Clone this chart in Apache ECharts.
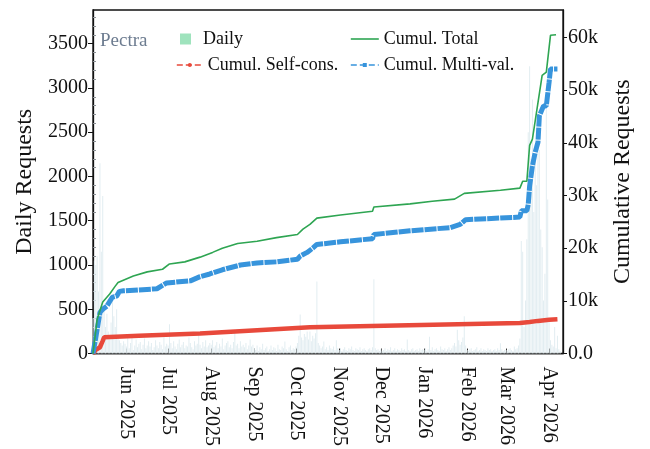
<!DOCTYPE html>
<html>
<head>
<meta charset="utf-8">
<script src="https://cdn.jsdelivr.net/npm/echarts@6/dist/echarts.min.js"></script>
<style>
  html, body { margin: 0; padding: 0; background: #fff; }
  #chart { width: 650px; height: 449px; }
</style>
</head>
<body>
<div id="chart"></div>
<script>
// first day of the daily series
const startDate = '2025-05-08'
const endDate = '2026-04-11'

// daily requests, one array per month (May starts on the 8th)
const dailyMay = [400, 1050, 1000, 1100, 700, 2150, 1150, 1780, 500, 300, 450, 250, 200, 350, 600, 420, 300, 500, 200, 150, 120, 90, 140, 110]
const dailyJun = [80, 190, 60, 120, 190, 40, 90, 160, 70, 110, 130, 50, 100, 170, 60, 90, 140, 80, 120, 40, 70, 150, 90, 60, 130, 100, 50, 180, 80, 110]
const dailyJul = [90, 330, 120, 60, 140, 80, 50, 110, 160, 70, 100, 130, 60, 90, 80, 180, 120, 70, 50, 140, 90, 110, 240, 100, 60, 130, 80, 150, 70, 90, 120]
const dailyAug = [100, 150, 70, 90, 130, 60, 110, 80, 170, 50, 90, 120, 140, 70, 100, 60, 130, 250, 90, 110, 60, 140, 80, 100, 70, 120, 50, 90, 160, 80, 100]
const dailySep = [60, 40, 90, 30, 70, 50, 110, 40, 60, 80, 30, 50, 90, 40, 70, 60, 30, 100, 50, 40, 80, 60, 135, 50, 30, 70, 90, 40, 60, 50]
const dailyOct = [80, 120, 200, 440, 180, 150, 220, 190, 250, 160, 250, 140, 200, 170, 230, 815, 120, 90, 60, 80, 135, 50, 70, 40, 90, 60, 50, 80, 40, 150, 60]
const dailyNov = [40, 60, 30, 50, 70, 40, 30, 60, 50, 80, 40, 30, 60, 50, 40, 70, 30, 50, 60, 40, 30, 50, 60, 40, 70, 840, 60, 40, 50, 30]
const dailyDec = [50, 30, 40, 60, 30, 50, 40, 70, 30, 40, 60, 30, 50, 40, 30, 60, 40, 50, 30, 160, 40, 30, 50, 60, 30, 40, 50, 30, 60, 40, 50]
const dailyJan = [40, 60, 30, 50, 190, 40, 70, 30, 50, 60, 40, 30, 80, 50, 40, 60, 30, 50, 70, 40, 60, 90, 120, 80, 270, 150, 100, 130, 180, 420, 90]
const dailyFeb = [40, 30, 50, 60, 30, 40, 50, 70, 30, 40, 60, 30, 50, 40, 30, 60, 40, 50, 30, 40, 50, 30, 60, 40, 115, 50, 30, 40]
const dailyMar = [40, 30, 50, 60, 40, 30, 80, 50, 60, 90, 170, 1270, 1150, 300, 600, 1290, 2500, 3245, 2200, 2870, 1600, 2200, 1900, 2500, 2300, 1400, 1200, 600, 900, 2760, 1740]
const dailyApr = [400, 150, 100, 80, 300, 60, 200, 50, 30]

// cumulative series: day offset from startDate, value
const totalDay = [0, 3, 7, 12, 16, 18, 29, 39, 50, 55, 66, 77, 86, 93, 104, 118, 132, 147, 151, 156, 161, 178, 201, 202, 228, 244, 260, 267, 293, 307, 309, 312, 314, 316, 323, 326, 329, 333]
const totalVal = [0, 6500, 9800, 11300, 12800, 13500, 14700, 15500, 16000, 17000, 17400, 18300, 19200, 20000, 20900, 21300, 22000, 22600, 23600, 24500, 25700, 26300, 27000, 27800, 28400, 28900, 29300, 30400, 31000, 31400, 32700, 32700, 39500, 40700, 52800, 53400, 60400, 60500]

const selfDay = [0, 2, 5, 6, 7, 8, 33, 77, 156, 307, 314, 320, 328, 334]
const selfVal = [0, 700, 1200, 1500, 2400, 3100, 3400, 3800, 5000, 5800, 6000, 6200, 6400, 6500]

const multiDay = [0, 3, 5, 7, 10, 12, 14, 17, 19, 22, 46, 53, 70, 77, 84, 93, 106, 118, 132, 147, 149, 154, 158, 161, 178, 201, 202, 228, 257, 264, 268, 307, 308, 312, 313, 314, 316, 318, 320, 321, 324, 326, 328, 329, 334]
const multiVal = [0, 4600, 7800, 8400, 9000, 9900, 10700, 10900, 11800, 11900, 12300, 13400, 13800, 14600, 15100, 15900, 16800, 17200, 17400, 17900, 18500, 19200, 20000, 20700, 21200, 21800, 22600, 23300, 23900, 24500, 25400, 25900, 27100, 27100, 28300, 31800, 35600, 38200, 40100, 45100, 47000, 47000, 51500, 54000, 54000]

// x tick labels
const tickDates = ['2025-06-01', '2025-07-01', '2025-08-01', '2025-09-01', '2025-10-01', '2025-11-01', '2025-12-01', '2026-01-01', '2026-02-01', '2026-03-01', '2026-04-01']
const tickLabels = ['Jun 2025', 'Jul 2025', 'Aug 2025', 'Sep 2025', 'Oct 2025', 'Nov 2025', 'Dec 2025', 'Jan 2026', 'Feb 2026', 'Mar 2026', 'Apr 2026']

const DAY = 86400000
const t0 = Date.parse(startDate)
const daily = [].concat(dailyMay, dailyJun, dailyJul, dailyAug, dailySep, dailyOct, dailyNov, dailyDec, dailyJan, dailyFeb, dailyMar, dailyApr)
const tickValues = tickDates.map((d) => Date.parse(d))

const toPoints = (days, vals) => days.map((d, i) => [t0 + d * DAY, vals[i]])

const FONT = '"Liberation Serif", "DejaVu Serif", serif'
const leftMax = 3880
const rightMax = 65200

const legendText = { fontSize: 18, fontFamily: FONT, color: '#111', lineHeight: 20 }

// one legend per entry so each can be placed like the 2x2 box
function legendAt(left, top, item, w, h) {
  return { left, top, itemWidth: w, itemHeight: h, itemGap: 0, textStyle: legendText, data: [item] }
}

const chart = echarts.init(document.getElementById('chart'), null, { renderer: 'canvas' })

chart.setOption({
  animation: false,
  backgroundColor: '#fff',
  textStyle: { fontFamily: FONT, color: '#111' },
  grid: {
    left: 93, right: 87, top: 10, bottom: 95,
    show: true, borderColor: '#111', borderWidth: 1.3, backgroundColor: 'transparent',
  },
  graphic: [
    {
      type: 'text', left: 100, top: 32,
      style: { text: 'Pectra', fill: '#6d7c90', font: '19px ' + FONT },
    },
  ],
  legend: [
    legendAt(175, 24, { name: 'Daily', icon: 'path://M0,0H10V10H0Z', itemStyle: { color: '#9fe3bd' } }, 25, 11),
    legendAt(171, 50, { name: 'Cumul. Self-cons.', lineStyle: { width: 1.6, type: [6, 3] } }, 26, 5),
    legendAt(345, 24, { name: 'Cumul. Total', lineStyle: { width: 1.6 }, itemStyle: { opacity: 0 } }, 28, 5),
    legendAt(345, 50, { name: 'Cumul. Multi-val.', lineStyle: { width: 1.6, type: [6, 3] } }, 28, 5),
  ],
  xAxis: {
    type: 'value',
    min: t0,
    max: Date.parse(endDate),
    axisLine: { show: true, lineStyle: { color: '#111', width: 1.3 } },
    axisTick: { show: true, inside: true, length: 5, customValues: tickValues, lineStyle: { color: '#333' } },
    axisLabel: {
      customValues: tickValues,
      rotate: -90,
      margin: 13,
      fontSize: 20,
      fontFamily: FONT,
      color: '#111',
      formatter: (v) => tickLabels[tickValues.indexOf(v)] || '',
    },
    splitLine: { show: false },
  },
  yAxis: [
    {
      type: 'value', position: 'left', min: 0, max: leftMax, interval: 500,
      name: 'Daily Requests', nameLocation: 'middle', nameRotate: 90, nameGap: 49,
      nameTextStyle: { fontSize: 24, fontFamily: FONT, color: '#111' },
      axisLine: { show: true, lineStyle: { color: '#111', width: 1.3 } },
      axisTick: { show: true, length: 5, lineStyle: { color: '#111' } },
      axisLabel: {
        fontSize: 20, fontFamily: FONT, color: '#111', margin: 5, showMaxLabel: false,
        formatter: (v) => String(v),
      },
      splitLine: { show: false },
    },
    {
      type: 'value', position: 'right', min: 0, max: rightMax, interval: 10000,
      name: 'Cumulative Requests', nameLocation: 'middle', nameRotate: 90, nameGap: 48,
      nameTextStyle: { fontSize: 24, fontFamily: FONT, color: '#111' },
      axisLine: { show: true, lineStyle: { color: '#111', width: 1.3 } },
      axisTick: { show: true, length: 4, lineStyle: { color: '#111' } },
      axisLabel: {
        fontSize: 20, fontFamily: FONT, color: '#111', margin: 5, showMaxLabel: false,
        formatter: (v) => (v === 0 ? '0.0' : v / 1000 + 'k'),
      },
      splitLine: { show: false },
    },
    {
      // minor ticks drawn inside the left spine
      type: 'value', position: 'left', min: 0, max: leftMax, interval: 500,
      axisLine: { show: false },
      axisTick: { show: false, inside: true },
      minorTick: { show: true, splitNumber: 5, length: 3, lineStyle: { color: '#8a8f94', width: 1 } },
      axisLabel: { show: false },
      splitLine: { show: false },
    },
  ],
  series: [
    {
      name: 'Daily',
      type: 'bar',
      yAxisIndex: 0,
      barWidth: 1,
      itemStyle: { color: '#e2edf1' },
      data: daily.map((v, i) => [t0 + i * DAY, v]),
      z: 1,
    },
    {
      name: 'Cumul. Self-cons.',
      type: 'line',
      yAxisIndex: 1,
      symbol: 'circle',
      symbolSize: 4,
      showSymbol: false,
      color: '#e8493b',
      lineStyle: { color: '#e8493b', width: 4.5 },
      data: toPoints(selfDay, selfVal),
      z: 3,
    },
    {
      name: 'Cumul. Multi-val.',
      type: 'line',
      yAxisIndex: 1,
      symbol: 'rect',
      symbolSize: 4,
      showSymbol: false,
      color: '#3794dc',
      lineStyle: { color: '#3794dc', width: 5, type: [12, 1] },
      data: toPoints(multiDay, multiVal),
      z: 3,
    },
    {
      name: 'Cumul. Total',
      type: 'line',
      yAxisIndex: 1,
      symbol: 'none',
      color: '#2ea552',
      lineStyle: { color: '#2ea552', width: 1.6 },
      data: toPoints(totalDay, totalVal),
      z: 4,
    },
  ],
})
</script>
</body>
</html>
